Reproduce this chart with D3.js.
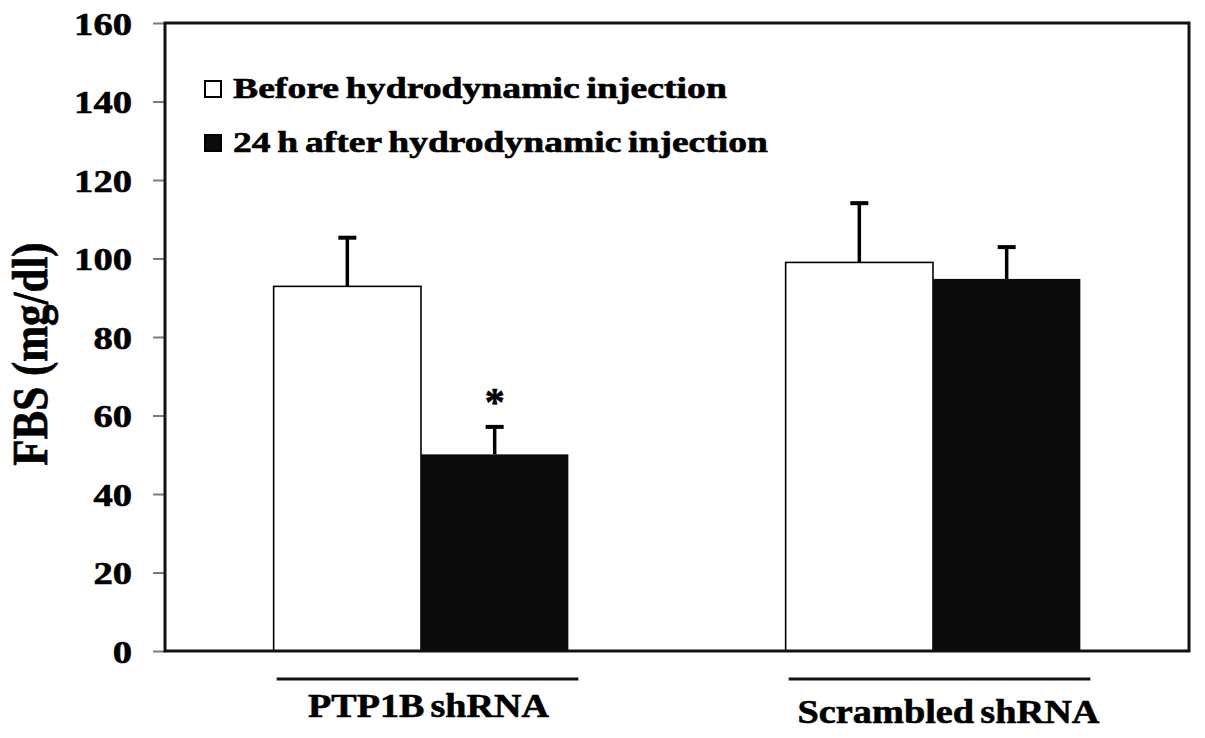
<!DOCTYPE html>
<html>
<head>
<meta charset="utf-8">
<script src="https://cdn.jsdelivr.net/npm/d3@7"></script>
<style>
  body { margin: 0; background: #fff; }
  text { font-family: "Liberation Serif", "Times New Roman", serif; font-weight: bold; fill: #000; stroke: #000; stroke-width: 0.6px; }
</style>
</head>
<body>
<svg id="chart" width="1205" height="738"></svg>
<script>
// values
var groups = ["PTP1B shRNA", "Scrambled shRNA"];
var seriesNames = ["Before hydrodynamic injection", "24 h after hydrodynamic injection"];
var beforeVals = [92.9, 99.0];
var afterVals = [50.1, 94.8];
var beforeErr = [12.4, 15.1];
var afterErr = [7.0, 8.1];
var stars = [["", "*"], ["", ""]];
var yTicks = [0, 20, 40, 60, 80, 100, 120, 140, 160];
var yTitle = "FBS (mg/dl)";

var svg = d3.select("#chart");
var plotLeft = 165, plotRight = 1189, plotTop = 23, plotBottom = 651;
var fills = ["#ffffff", "#0b0b0b"];

// squeeze/stretch a text horizontally to a target width, keeping its anchor
function fitText(t, x, y, width) {
	var w = t.node().getComputedTextLength();
	t.attr("x", 0).attr("y", 0)
		.attr("transform", "translate(" + x + "," + y + ") scale(" + (width / w) + ",1)");
}

var y = d3.scaleLinear().domain([0, 160]).range([plotBottom, plotTop]);
var x0 = d3.scaleBand().domain(groups).range([plotLeft, plotRight])
	.paddingInner(0.4244).paddingOuter(0.2122);
var x1 = d3.scaleBand().domain([0, 1]).range([0, x0.bandwidth()]);

// y axis ticks and labels
var yAxis = d3.axisLeft(y).tickValues(yTicks).tickSize(12).tickPadding(21);
var ag = svg.append("g").attr("transform", "translate(" + plotLeft + ",0)").call(yAxis);
ag.select(".domain").remove();
ag.attr("font-family", null).attr("font-size", null);
ag.selectAll(".tick line").attr("stroke", "#7a7a7a").attr("stroke-width", 2);
ag.selectAll(".tick text").each(function (d) {
	var t = d3.select(this).attr("dy", null).style("font-size", "31px");
	fitText(t, -33, 11, String(d).length * 19.3);
});

// y title
svg.append("text")
	.attr("transform", "translate(47,354) scale(1.2,1) rotate(-90)")
	.attr("text-anchor", "middle")
	.style("font-size", "43px")
	.text(yTitle);

// bars
var rows = [];
for (var i = 0; i < groups.length; i++) {
	rows.push({g: groups[i], s: 0, v: beforeVals[i], e: beforeErr[i], star: stars[i][0]});
	rows.push({g: groups[i], s: 1, v: afterVals[i], e: afterErr[i], star: stars[i][1]});
}
svg.selectAll("rect.bar").data(rows).enter().append("rect")
	.attr("class", "bar")
	.attr("x", function (d) { return x0(d.g) + x1(d.s); })
	.attr("y", function (d) { return y(d.v); })
	.attr("width", x1.bandwidth())
	.attr("height", function (d) { return y(0) - y(d.v); })
	.attr("fill", function (d) { return fills[d.s]; })
	.attr("stroke", "#000")
	.attr("stroke-width", function (d) { return d.s === 0 ? 1.6 : 0; });

// error bars (upper whisker only)
var cx = function (d) { return x0(d.g) + x1(d.s) + x1.bandwidth() / 2; };
svg.selectAll("line.err").data(rows).enter().append("line")
	.attr("x1", cx).attr("x2", cx)
	.attr("y1", function (d) { return y(d.v); })
	.attr("y2", function (d) { return y(d.v + d.e); })
	.attr("stroke", "#000").attr("stroke-width", 3.5);
svg.selectAll("line.cap").data(rows).enter().append("line")
	.attr("x1", function (d) { return cx(d) - 9; })
	.attr("x2", function (d) { return cx(d) + 9; })
	.attr("y1", function (d) { return y(d.v + d.e); })
	.attr("y2", function (d) { return y(d.v + d.e); })
	.attr("stroke", "#000").attr("stroke-width", 4);

// significance marks
svg.selectAll("text.star").data(rows.filter(function (d) { return d.star; })).enter().append("text")
	.attr("x", cx)
	.attr("y", function (d) { return y(d.v + d.e) - 12; })
	.attr("text-anchor", "middle")
	.style("font-size", "40px")
	.text(function (d) { return d.star; });

// plot frame
svg.append("rect")
	.attr("x", plotLeft).attr("y", plotTop)
	.attr("width", plotRight - plotLeft).attr("height", plotBottom - plotTop)
	.attr("fill", "none").attr("stroke", "#111").attr("stroke-width", 3);

// group underlines and labels
var labelDx = [1, 9], labelY = [717, 723], labelW = [241, 302];
groups.forEach(function (g, i) {
	var a = x0(g) + 3, b = x0(g) + x0.bandwidth() + 10;
	svg.append("line")
		.attr("x1", a).attr("x2", b).attr("y1", 679).attr("y2", 679)
		.attr("stroke", "#111").attr("stroke-width", 3);
	var t = svg.append("text")
		.attr("text-anchor", "middle")
		.style("font-size", "34px")
		.style("word-spacing", "-3px")
		.text(g);
	fitText(t, (a + b) / 2 + labelDx[i], labelY[i], labelW[i]);
});

// legend
var legW = [494, 535];
var leg = svg.append("g").attr("transform", "translate(204,80)");
seriesNames.forEach(function (s, i) {
	leg.append("rect")
		.attr("x", 1).attr("y", i * 54 + 1)
		.attr("width", 16).attr("height", 16)
		.attr("fill", fills[i]).attr("stroke", "#000").attr("stroke-width", 2);
	var t = leg.append("text")
		.style("font-size", "29px")
		.style("word-spacing", "-2px")
		.text(s);
	fitText(t, 29, i * 54 + 18, legW[i]);
});
</script>
</body>
</html>
